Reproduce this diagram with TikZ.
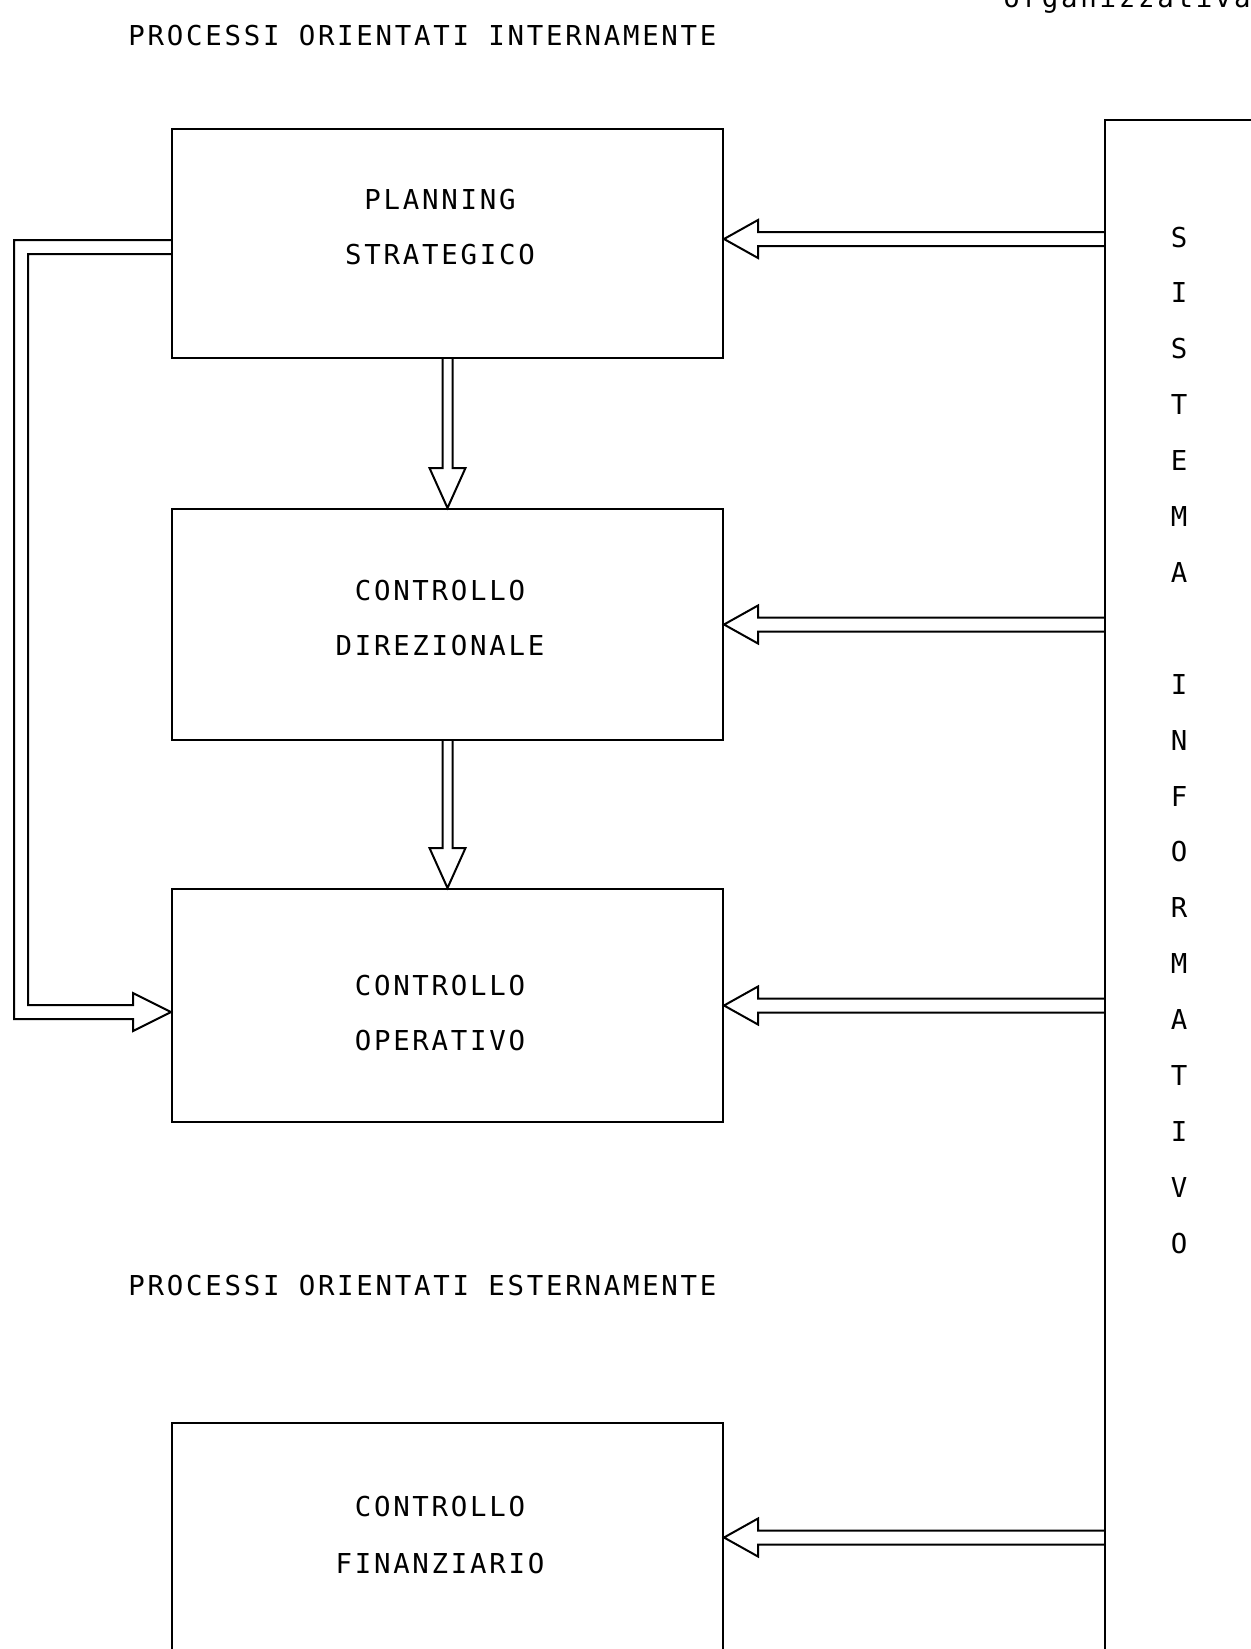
\documentclass[tikz,border=0pt]{standalone}
\usepackage{fontspec}
\usepackage{tikz}
\usetikzlibrary{calc}
\newfontfamily\typefont[LetterSpace=10]{DejaVu Sans Mono}

\begin{document}
\begin{tikzpicture}[x=0.5pt, y=-0.5pt,
  box/.style={draw, line width=1pt, anchor=north west, minimum width=275.5pt, inner sep=0pt},
  lbl/.style={font=\typefont\fontsize{13.7}{16}\selectfont, inner sep=0pt, anchor=base},
  edge/.style={line width=1pt, line join=miter}]
  \useasboundingbox (0,0) rectangle (1251,1649);

  % Titles
  \node[lbl, anchor=base west] (org) at (1003,8) {organizzativa};
  \node[lbl, anchor=base west] (titint) at (128,45) {PROCESSI ORIENTATI INTERNAMENTE};
  \node[lbl, anchor=base west] (titest) at (128,1295) {PROCESSI ORIENTATI ESTERNAMENTE};

  % Boxes
  \node[box, minimum height=114.5pt] (plan) at (171,128) {};
  \node[box, minimum height=115.5pt] (dir) at (171,508) {};
  \node[box, minimum height=116.5pt] (oper) at (171,888) {};
  \node[box, minimum height=116pt] (fin) at (171,1422) {};

  \node[lbl] (plan1) at (440,209) {PLANNING};
  \node[lbl] (plan2) at (440,264) {STRATEGICO};
  \node[lbl] (dir1) at (440,600) {CONTROLLO};
  \node[lbl] (dir2) at (440,655) {DIREZIONALE};
  \node[lbl] (oper1) at (440,995) {CONTROLLO};
  \node[lbl] (oper2) at (440,1050) {OPERATIVO};
  \node[lbl] (fin1) at (440,1516) {CONTROLLO};
  \node[lbl] (fin2) at (440,1573) {FINANZIARIO};

  % Information system
  \node[box, minimum width=100pt, minimum height=800pt] (sys) at (1104,119) {};
  \foreach \l [count=\i from 0] in {S,I,S,T,E,M,A,{},I,N,F,O,R,M,A,T,I,V,O}
    \node[lbl] (sys\i) at (1179,{247+55.9*\i}) {\l};

  % Hollow arrows from the information system
  \foreach \b/\dy in {plan/-4.5, dir/0, oper/0, fin/-1.5} {
    \coordinate (tip) at ($(\b.east)+(0,\dy)$);
    \draw[edge] ($(tip -| sys.west)+(0,-7)$) -- ($(tip)+(34,-7)$) -- ++(0,-12) -- (tip)
      -- ++(34,19) -- ++(0,-12) -- ($(tip -| sys.west)+(0,7)$);
  }

  % Hollow arrows between the boxes
  \foreach \a/\b in {plan/dir, dir/oper} {
    \draw[edge] ($(\a.south)+(-5,0)$) -- ($(\b.north)+(-5,-40)$) -- ++(-13,0) -- (\b.north)
      -- ++(18,-40) -- ++(-13,0) -- ($(\a.south)+(5,0)$);
  }

  % Feedback from planning to operative control
  \draw[edge] ($(plan.west)+(0,-3.5)$) -- ++(-157,0) -- ++(0,779) -- ++(119,0) -- ++(0,12)
    -- ($(oper.west)+(0,6.5)$) -- ++(-38,-19) -- ++(0,12) -- ++(-105,0) -- ++(0,-751)
    -- ($(plan.west)+(0,10.5)$);
\end{tikzpicture}
\end{document}
